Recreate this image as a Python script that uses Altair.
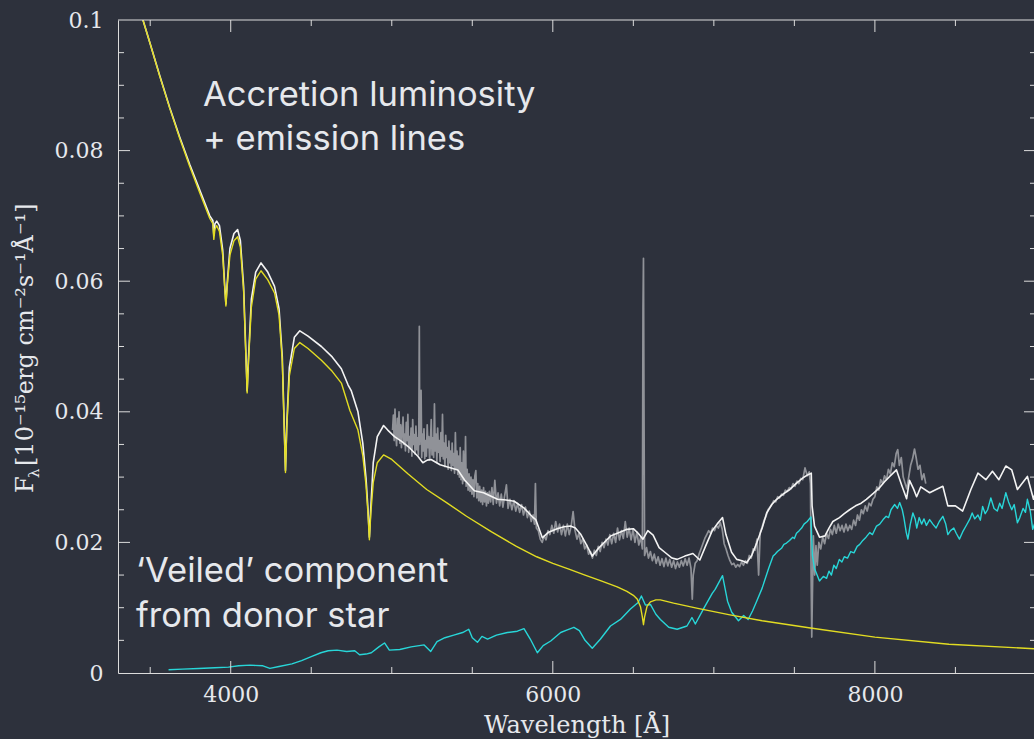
import altair as alt
import pandas as pd

# Spectral components: (wavelength [Å], flux [1e-15 erg cm^-2 s^-1 Å^-1])
ACCRETION = [
    (3440, 0.1012), (3455, 0.1000), (3497, 0.0966), (3559, 0.0914), (3621, 0.0865),
    (3683, 0.0819), (3745, 0.0776), (3807, 0.0736), (3870, 0.0696), (3889, 0.0688),
    (3895, 0.0664), (3902, 0.0680), (3913, 0.0685), (3930, 0.0676), (3950, 0.0640),
    (3962, 0.0592), (3970, 0.0562), (3978, 0.0592), (3995, 0.0640), (4020, 0.0662),
    (4043, 0.0668), (4060, 0.0652), (4080, 0.0585), (4094, 0.0485), (4102, 0.0429),
    (4110, 0.0475), (4128, 0.0560), (4155, 0.0603), (4188, 0.0616), (4230, 0.0602),
    (4272, 0.0582), (4300, 0.0548), (4320, 0.0478), (4332, 0.0375), (4340, 0.0307),
    (4348, 0.0375), (4364, 0.0455), (4395, 0.0497), (4429, 0.0506), (4480, 0.0497),
    (4563, 0.0479), (4630, 0.0462), (4687, 0.0444), (4740, 0.0402), (4790, 0.0372),
    (4820, 0.0333), (4840, 0.0288), (4852, 0.0245), (4861, 0.0204), (4870, 0.0245),
    (4885, 0.0292), (4910, 0.0322), (4949, 0.0334), (5000, 0.0327), (5100, 0.0305),
    (5217, 0.0281), (5340, 0.0261), (5464, 0.0240), (5620, 0.0216), (5774, 0.0194),
    (5900, 0.0178), (6000, 0.0168), (6100, 0.0159), (6200, 0.0150), (6300, 0.0141),
    (6400, 0.0132), (6460, 0.0125), (6500, 0.0119), (6525, 0.0113), (6545, 0.0101),
    (6556, 0.0086), (6563, 0.0074), (6570, 0.0086), (6585, 0.0102), (6606, 0.0109),
    (6640, 0.0112), (6668, 0.0112), (6750, 0.0107), (6900, 0.0099), (7100, 0.0089),
    (7300, 0.0080), (7600, 0.0069), (8000, 0.0055), (8460, 0.0044), (9000, 0.0037),
]

DONOR = [
    (3614, 0.0005), (3700, 0.0006), (3800, 0.0007), (3900, 0.0008), (3986, 0.0009),
    (4050, 0.0011), (4120, 0.0012), (4200, 0.0011), (4243, 0.0007), (4300, 0.0010),
    (4380, 0.0014), (4440, 0.0019), (4500, 0.0025), (4560, 0.0031), (4605, 0.0034),
    (4660, 0.0035), (4720, 0.0033), (4770, 0.0034), (4800, 0.0028), (4840, 0.0029),
    (4873, 0.0031), (4920, 0.0040), (4955, 0.0046), (4985, 0.0035), (5050, 0.0036),
    (5120, 0.0040), (5201, 0.0043), (5242, 0.0033), (5281, 0.0048), (5330, 0.0054),
    (5385, 0.0058), (5440, 0.0062), (5478, 0.0067), (5500, 0.0054), (5532, 0.0047),
    (5560, 0.0056), (5595, 0.0052), (5650, 0.0058), (5718, 0.0062), (5780, 0.0064),
    (5821, 0.0068), (5860, 0.0052), (5904, 0.0031), (5940, 0.0042), (5987, 0.0049),
    (6049, 0.0062), (6090, 0.0066), (6131, 0.0070), (6165, 0.0065), (6200, 0.0050),
    (6245, 0.0038), (6296, 0.0052), (6358, 0.0072), (6420, 0.0082), (6482, 0.0098),
    (6530, 0.0108), (6550, 0.0118), (6575, 0.0104), (6606, 0.0105), (6640, 0.0090),
    (6668, 0.0082), (6720, 0.0070), (6772, 0.0067), (6833, 0.0072), (6864, 0.0085),
    (6885, 0.0075), (6940, 0.0100), (6990, 0.0122), (7008, 0.0128), (7054, 0.0149),
    (7085, 0.0110), (7111, 0.0093), (7153, 0.0080), (7185, 0.0088), (7213, 0.0082),
    (7240, 0.0095), (7266, 0.0110), (7300, 0.0130), (7340, 0.0160), (7368, 0.0179),
    (7380, 0.0182), (7395, 0.0186), (7420, 0.0191), (7435, 0.0197), (7451, 0.0199),
    (7470, 0.0203), (7490, 0.0208), (7500, 0.0206), (7513, 0.0214), (7530, 0.0218),
    (7545, 0.0222), (7560, 0.0228), (7580, 0.0232), (7603, 0.0239), (7612, 0.0180),
    (7625, 0.0160), (7656, 0.0141), (7680, 0.0148), (7700, 0.0145), (7715, 0.0156),
    (7730, 0.0150), (7745, 0.0165), (7760, 0.0160), (7779, 0.0174), (7795, 0.0170),
    (7810, 0.0178), (7830, 0.0176), (7850, 0.0186), (7870, 0.0184), (7890, 0.0194),
    (7906, 0.0197), (7925, 0.0203), (7945, 0.0208), (7968, 0.0215), (7985, 0.0212),
    (8010, 0.0225), (8030, 0.0228), (8051, 0.0235), (8070, 0.0240), (8085, 0.0238),
    (8100, 0.0250), (8123, 0.0258), (8140, 0.0252), (8154, 0.0261), (8170, 0.0250),
    (8180, 0.0238), (8195, 0.0215), (8205, 0.0205), (8220, 0.0228), (8236, 0.0245),
    (8250, 0.0236), (8260, 0.0222), (8275, 0.0238), (8290, 0.0228), (8305, 0.0236),
    (8320, 0.0226), (8340, 0.0235), (8360, 0.0228), (8380, 0.0222), (8400, 0.0232),
    (8422, 0.0240), (8440, 0.0228), (8453, 0.0212), (8470, 0.0218), (8490, 0.0222),
    (8505, 0.0214), (8525, 0.0205), (8545, 0.0216), (8570, 0.0227), (8590, 0.0236),
    (8604, 0.0245), (8620, 0.0236), (8640, 0.0242), (8655, 0.0234), (8669, 0.0255),
    (8685, 0.0244), (8700, 0.0250), (8720, 0.0268), (8740, 0.0252), (8760, 0.0248),
    (8775, 0.0260), (8790, 0.0252), (8813, 0.0276), (8830, 0.0262), (8850, 0.0250),
    (8865, 0.0258), (8885, 0.0230), (8900, 0.0238), (8920, 0.0252), (8935, 0.0246),
    (8947, 0.0266), (8965, 0.0248), (8980, 0.0220), (9000, 0.0235),
]

TOTAL = [
    (3440, 0.1012), (3455, 0.1000), (3497, 0.0966), (3559, 0.0915), (3621, 0.0866),
    (3683, 0.0821), (3745, 0.0779), (3807, 0.0740), (3870, 0.0700), (3889, 0.0693),
    (3895, 0.0670), (3902, 0.0688), (3913, 0.0692), (3930, 0.0685), (3950, 0.0648),
    (3962, 0.0596), (3970, 0.0565), (3978, 0.0596), (3995, 0.0650), (4020, 0.0673),
    (4043, 0.0679), (4060, 0.0662), (4080, 0.0592), (4094, 0.0490), (4102, 0.0432),
    (4110, 0.0480), (4128, 0.0572), (4155, 0.0614), (4188, 0.0628), (4230, 0.0614),
    (4272, 0.0592), (4300, 0.0558), (4320, 0.0485), (4332, 0.0380), (4340, 0.0310),
    (4348, 0.0380), (4364, 0.0468), (4395, 0.0514), (4429, 0.0524), (4480, 0.0516),
    (4563, 0.0500), (4630, 0.0484), (4687, 0.0466), (4729, 0.0441), (4749, 0.0432),
    (4790, 0.0400), (4820, 0.0352), (4840, 0.0298), (4852, 0.0252), (4861, 0.0208),
    (4870, 0.0254), (4885, 0.0322), (4910, 0.0362), (4949, 0.0379), (4975, 0.0372),
    (5017, 0.0362), (5059, 0.0355), (5110, 0.0345), (5162, 0.0332), (5193, 0.0322),
    (5220, 0.0326), (5244, 0.0327), (5300, 0.0319), (5368, 0.0314), (5410, 0.0311),
    (5451, 0.0296), (5513, 0.0279), (5570, 0.0276), (5657, 0.0266), (5710, 0.0265),
    (5760, 0.0263), (5820, 0.0253), (5870, 0.0240), (5894, 0.0235), (5935, 0.0207),
    (5970, 0.0215), (6027, 0.0221), (6070, 0.0224), (6110, 0.0225), (6140, 0.0222),
    (6172, 0.0213), (6210, 0.0196), (6245, 0.0179), (6280, 0.0190), (6316, 0.0199),
    (6360, 0.0210), (6420, 0.0216), (6461, 0.0220), (6500, 0.0221), (6530, 0.0214),
    (6560, 0.0205), (6590, 0.0218), (6623, 0.0211), (6660, 0.0192), (6705, 0.0183),
    (6740, 0.0176), (6772, 0.0174), (6820, 0.0179), (6870, 0.0183), (6913, 0.0173),
    (6950, 0.0195), (6990, 0.0218), (7020, 0.0228), (7054, 0.0238), (7075, 0.0212),
    (7110, 0.0185), (7142, 0.0174), (7175, 0.0172), (7204, 0.0169), (7235, 0.0180),
    (7266, 0.0199), (7300, 0.0222), (7328, 0.0245), (7360, 0.0258), (7390, 0.0266),
    (7430, 0.0274), (7472, 0.0281), (7510, 0.0290), (7554, 0.0299), (7580, 0.0303),
    (7605, 0.0306), (7610, 0.0256), (7625, 0.0225), (7656, 0.0208), (7690, 0.0210),
    (7715, 0.0222), (7739, 0.0232), (7780, 0.0238), (7810, 0.0244), (7843, 0.0250),
    (7880, 0.0256), (7915, 0.0260), (7947, 0.0266), (7990, 0.0275), (8030, 0.0284),
    (8060, 0.0293), (8092, 0.0301), (8134, 0.0311), (8166, 0.0288), (8197, 0.0267),
    (8215, 0.0295), (8240, 0.0282), (8259, 0.0270), (8285, 0.0285), (8340, 0.0276),
    (8380, 0.0281), (8422, 0.0286), (8453, 0.0256), (8500, 0.0256), (8545, 0.0248),
    (8596, 0.0281), (8640, 0.0306), (8689, 0.0296), (8730, 0.0309), (8770, 0.0296),
    (8813, 0.0317), (8850, 0.0311), (8885, 0.0281), (8947, 0.0301), (8985, 0.0266),
    (9000, 0.0280),
]

OBSERVED = [
    (5005, 0.0372), (5010, 0.0395), (5015, 0.0356), (5020, 0.0404), (5025, 0.0365),
    (5030, 0.0348), (5035, 0.0390), (5040, 0.0360), (5045, 0.0400), (5050, 0.0352),
    (5055, 0.0380), (5060, 0.0345), (5065, 0.0372), (5070, 0.0392), (5075, 0.0350),
    (5080, 0.0366), (5085, 0.0340), (5090, 0.0384), (5095, 0.0356), (5100, 0.0396),
    (5105, 0.0338), (5110, 0.0362), (5115, 0.0345), (5120, 0.0375), (5125, 0.0332),
    (5130, 0.0388), (5135, 0.0350), (5140, 0.0365), (5145, 0.0335), (5150, 0.0378),
    (5155, 0.0342), (5160, 0.0360), (5165, 0.0334), (5168, 0.0372), (5171, 0.0531),
    (5174, 0.0350), (5178, 0.0385), (5182, 0.0433), (5186, 0.0330), (5190, 0.0366),
    (5195, 0.0340), (5200, 0.0374), (5205, 0.0328), (5210, 0.0356), (5215, 0.0332),
    (5220, 0.0380), (5225, 0.0345), (5230, 0.0362), (5235, 0.0326), (5240, 0.0352),
    (5245, 0.0388), (5250, 0.0334), (5255, 0.0360), (5260, 0.0330), (5265, 0.0412),
    (5270, 0.0340), (5275, 0.0366), (5280, 0.0322), (5285, 0.0375), (5290, 0.0338),
    (5295, 0.0356), (5300, 0.0324), (5305, 0.0368), (5310, 0.0332), (5315, 0.0396),
    (5320, 0.0328), (5325, 0.0352), (5330, 0.0316), (5335, 0.0364), (5340, 0.0330),
    (5345, 0.0345), (5350, 0.0312), (5355, 0.0355), (5360, 0.0322), (5365, 0.0340),
    (5370, 0.0310), (5375, 0.0352), (5380, 0.0318), (5385, 0.0336), (5390, 0.0306),
    (5395, 0.0368), (5400, 0.0312), (5405, 0.0340), (5410, 0.0304), (5415, 0.0332),
    (5420, 0.0300), (5425, 0.0345), (5430, 0.0296), (5435, 0.0322), (5440, 0.0290),
    (5445, 0.0340), (5450, 0.0294), (5455, 0.0316), (5458, 0.0362), (5462, 0.0286),
    (5468, 0.0312), (5474, 0.0280), (5480, 0.0305), (5486, 0.0278), (5492, 0.0300),
    (5498, 0.0274), (5504, 0.0296), (5510, 0.0270), (5516, 0.0302), (5522, 0.0310),
    (5528, 0.0268), (5534, 0.0290), (5540, 0.0264), (5546, 0.0286), (5552, 0.0262),
    (5558, 0.0280), (5564, 0.0258), (5570, 0.0284), (5576, 0.0262), (5582, 0.0278),
    (5588, 0.0256), (5594, 0.0276), (5600, 0.0260),
    (5606, 0.0278), (5614, 0.0262), (5622, 0.0284), (5630, 0.0258), (5640, 0.0295),
    (5650, 0.0260), (5660, 0.0276), (5670, 0.0256), (5680, 0.0274), (5690, 0.0254),
    (5700, 0.0270), (5712, 0.0288), (5722, 0.0252), (5734, 0.0266), (5746, 0.0250),
    (5758, 0.0264), (5770, 0.0248), (5782, 0.0260), (5794, 0.0246), (5806, 0.0258),
    (5818, 0.0242), (5830, 0.0254), (5842, 0.0238), (5854, 0.0248), (5866, 0.0232),
    (5878, 0.0242), (5886, 0.0228), (5892, 0.0290), (5898, 0.0222), (5910, 0.0218),
    (5922, 0.0205), (5934, 0.0200), (5946, 0.0210), (5958, 0.0204), (5970, 0.0218),
    (5982, 0.0212), (5994, 0.0226), (6006, 0.0214), (6018, 0.0232), (6030, 0.0216),
    (6042, 0.0228), (6054, 0.0212), (6066, 0.0226), (6078, 0.0210), (6090, 0.0228),
    (6102, 0.0212), (6114, 0.0225), (6126, 0.0247), (6138, 0.0218), (6150, 0.0205),
    (6162, 0.0214), (6174, 0.0198), (6186, 0.0206), (6198, 0.0190), (6210, 0.0196),
    (6222, 0.0182), (6234, 0.0186), (6246, 0.0176), (6258, 0.0188), (6270, 0.0180),
    (6282, 0.0194), (6294, 0.0186), (6306, 0.0200), (6318, 0.0192), (6330, 0.0205),
    (6342, 0.0196), (6354, 0.0212), (6366, 0.0198), (6378, 0.0214), (6390, 0.0200),
    (6402, 0.0222), (6414, 0.0204), (6426, 0.0218), (6438, 0.0206), (6450, 0.0232),
    (6462, 0.0208), (6474, 0.0222), (6486, 0.0204), (6498, 0.0220), (6510, 0.0200),
    (6522, 0.0216), (6534, 0.0196), (6546, 0.0208), (6556, 0.0190), (6560, 0.0560),
    (6563, 0.0635), (6566, 0.0420), (6570, 0.0180), (6582, 0.0192), (6594, 0.0176),
    (6606, 0.0186), (6618, 0.0172), (6630, 0.0182), (6642, 0.0168), (6654, 0.0178),
    (6666, 0.0165), (6678, 0.0175), (6690, 0.0163), (6702, 0.0176), (6714, 0.0164),
    (6726, 0.0174), (6738, 0.0162), (6750, 0.0172), (6762, 0.0160), (6774, 0.0170),
    (6786, 0.0162), (6798, 0.0172), (6810, 0.0164), (6822, 0.0175), (6834, 0.0165),
    (6846, 0.0176), (6858, 0.0160), (6866, 0.0113), (6872, 0.0150), (6884, 0.0168),
    (6896, 0.0172), (6908, 0.0182), (6920, 0.0190), (6932, 0.0198), (6944, 0.0206),
    (6956, 0.0212), (6968, 0.0218), (6980, 0.0214), (6992, 0.0222), (7004, 0.0218),
    (7016, 0.0226), (7028, 0.0222), (7040, 0.0230), (7052, 0.0220), (7064, 0.0198),
    (7076, 0.0190), (7088, 0.0180), (7100, 0.0172), (7112, 0.0166), (7124, 0.0168),
    (7136, 0.0162), (7148, 0.0166), (7160, 0.0163), (7172, 0.0170), (7184, 0.0165),
    (7196, 0.0172), (7208, 0.0168), (7220, 0.0180), (7232, 0.0176), (7244, 0.0190),
    (7256, 0.0188), (7268, 0.0205), (7278, 0.0150), (7288, 0.0215), (7300, 0.0224),
    (7312, 0.0234), (7324, 0.0240), (7336, 0.0250), (7348, 0.0254), (7360, 0.0258),
    (7372, 0.0264), (7384, 0.0262), (7396, 0.0270), (7408, 0.0268), (7420, 0.0274),
    (7432, 0.0272), (7444, 0.0280), (7456, 0.0278), (7468, 0.0284), (7480, 0.0282),
    (7492, 0.0290), (7504, 0.0286), (7516, 0.0294), (7528, 0.0290), (7540, 0.0298),
    (7552, 0.0296), (7566, 0.0314), (7580, 0.0302), (7592, 0.0308), (7600, 0.0290),
    (7604, 0.0150), (7608, 0.0055), (7612, 0.0120), (7618, 0.0210), (7626, 0.0150),
    (7634, 0.0195), (7642, 0.0165), (7652, 0.0200), (7664, 0.0190), (7676, 0.0208),
    (7688, 0.0198), (7700, 0.0214), (7712, 0.0206), (7724, 0.0220), (7736, 0.0212),
    (7748, 0.0226), (7760, 0.0214), (7772, 0.0228), (7784, 0.0218), (7796, 0.0226),
    (7808, 0.0216), (7820, 0.0228), (7832, 0.0218), (7844, 0.0226), (7856, 0.0220),
    (7868, 0.0234), (7880, 0.0226), (7892, 0.0242), (7904, 0.0234), (7916, 0.0250),
    (7928, 0.0244), (7940, 0.0256), (7952, 0.0248), (7964, 0.0260), (7976, 0.0256),
    (7988, 0.0266), (8000, 0.0270), (8012, 0.0285), (8024, 0.0280), (8036, 0.0296),
    (8048, 0.0290), (8060, 0.0302), (8072, 0.0296), (8084, 0.0312), (8096, 0.0305),
    (8108, 0.0322), (8120, 0.0316), (8132, 0.0336), (8142, 0.0342), (8152, 0.0318),
    (8164, 0.0330), (8176, 0.0300), (8188, 0.0290), (8198, 0.0282), (8210, 0.0300),
    (8222, 0.0318), (8234, 0.0328), (8246, 0.0343), (8256, 0.0330), (8268, 0.0312),
    (8280, 0.0318), (8292, 0.0296), (8304, 0.0305), (8316, 0.0290),
]

# Axis tick positions
X_LABELS = [4000, 6000, 8000]
X_MINOR = [3500, 4500, 5000, 5500, 6500, 7000, 7500, 8500]
Y_LABELS = [0, 0.02, 0.04, 0.06, 0.08, 0.1]
Y_MAJOR = [0.02, 0.04, 0.06, 0.08]
Y_MINOR = [0.005, 0.01, 0.015, 0.025, 0.03, 0.035, 0.045, 0.05, 0.055,
           0.065, 0.07, 0.075, 0.085, 0.09, 0.095]

BG = "#2d313c"
AXIS_COLOR = "#dcdcdc"
TEXT_COLOR = "#e6e8ec"
SERIF = "DejaVu Serif"
SANS = "Inter"

W, H = 916, 653


def frame(pairs):
    return pd.DataFrame(pairs, columns=["wave", "flux"])


x_axis = alt.Axis(values=X_LABELS, format="d", tickSize=0, labelPadding=11,
                  labelFont=SERIF, labelFontSize=22, labelColor=TEXT_COLOR,
                  domainColor=AXIS_COLOR, domainWidth=1, grid=False, title=None)
y_axis = alt.Axis(values=Y_LABELS, format=".2~f", tickSize=0, labelPadding=15,
                  labelFont=SERIF, labelFontSize=22, labelColor=TEXT_COLOR,
                  domainColor=AXIS_COLOR, domainWidth=1, grid=False, title=None)

X = alt.X("wave:Q", scale=alt.Scale(domain=[3300, 8988], nice=False, zero=False), axis=x_axis)
Y = alt.Y("flux:Q", scale=alt.Scale(domain=[0, 0.1], nice=False, zero=False), axis=y_axis)


def spectrum(pairs, color, width):
    return alt.Chart(frame(pairs)).mark_line(
        color=color, strokeWidth=width, clip=True, strokeJoin="round"
    ).encode(x=X, y=Y, order="wave:Q")


observed = spectrum(OBSERVED, "#909298", 1.7)
total = spectrum(TOTAL, "#f4f4f4", 1.6)
donor = spectrum(DONOR, "#28d6d8", 1.4)
accretion = spectrum(ACCRETION, "#e2dc22", 1.4)


def x_ticks(values, length):
    df = pd.DataFrame({"wave": values})
    base = alt.Chart(df).mark_rule(color=AXIS_COLOR, strokeWidth=1)
    bottom = base.encode(x=X, y=alt.value(H), y2=alt.value(H - length))
    top = base.encode(x=X, y=alt.value(0), y2=alt.value(length))
    return [bottom, top]


def y_ticks(values, length):
    df = pd.DataFrame({"flux": values})
    base = alt.Chart(df).mark_rule(color=AXIS_COLOR, strokeWidth=1)
    left = base.encode(y=Y, x=alt.value(0), x2=alt.value(length))
    right = base.encode(y=Y, x=alt.value(W + 2), x2=alt.value(W + 2 - length))
    return [left, right]


top_edge = alt.Chart(alt.Data(values=[{}])).mark_rule(
    color=AXIS_COLOR, strokeWidth=1
).encode(x=alt.value(0), x2=alt.value(W + 2), y=alt.value(0))


def label(text, x, y, font, size, color=TEXT_COLOR, angle=0, align="left"):
    return alt.Chart(alt.Data(values=[{"t": text}])).mark_text(
        font=font, fontSize=size, color=color, align=align,
        baseline="alphabetic", angle=angle
    ).encode(text="t:N", x=alt.value(x), y=alt.value(y))


annotations = [
    label("Accretion luminosity", 85, 86, SANS, 34.5),
    label("+ emission lines", 85, 130, SANS, 34.5),
    label("\u2018Veiled\u2019 component", 18, 562, SANS, 34.5),
    label("from donor star", 18, 607, SANS, 34.5),
    label("Wavelength [\u00c5]", 459, 713, SERIF, 24, align="center"),
    label("F", -85, 473, SERIF, 24, angle=270),
    label("\u03bb", -79, 458, SERIF, 15, angle=270),
    label("[10\u207b\u00b9\u2075erg cm\u207b\u00b2s\u207b\u00b9\u00c5\u207b\u00b9]",
          -85, 446, SERIF, 24, angle=270),
]

layers = [observed, total, donor, accretion, top_edge]
layers += x_ticks(X_LABELS, 12) + x_ticks(X_MINOR, 6)
layers += y_ticks(Y_MAJOR, 12) + y_ticks(Y_MINOR, 6)
layers += annotations

chart = alt.layer(*layers).properties(
    width=W,
    height=H,
    padding={"left": 118, "top": 20, "right": 0, "bottom": 66},
    autosize=alt.AutoSizeParams(type="none"),
).configure(background=BG).configure_view(stroke="transparent")

chart.save("out.html", embed_options={"renderer": "svg", "actions": False})
